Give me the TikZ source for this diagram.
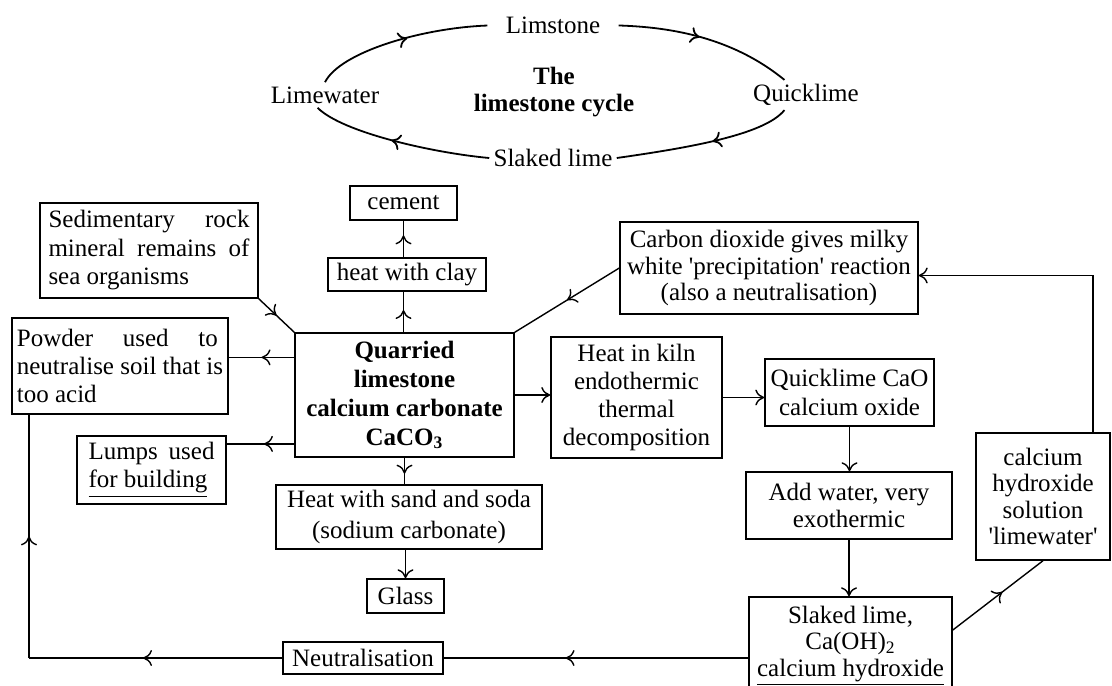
\documentclass[tikz,border=0pt]{standalone}
\usepackage{fontspec}
\setmainfont{Liberation Serif}
\usetikzlibrary{arrows.meta,decorations.markings,calc}
\newcommand{\myfs}[1]{\fontsize{12.5}{#1}\selectfont}
\begin{document}
\begin{tikzpicture}[x=0.5pt,y=-0.5pt,
  box/.style={draw, line width=0.7pt, inner sep=0pt, align=center, font=\myfs{14pt}},
  lbl/.style={inner sep=2pt, font=\myfs{13.5pt}},
  conn/.style={line width=0.7pt},
  endarr/.style={-{To[length=4.5pt,width=8pt]}},
  midarr/.style={postaction={decorate,decoration={markings,mark=at position #1 with {\arrow{To[length=4.5pt,width=8pt]}}}}},
  midarr/.default=0.5,
  cyc/.style={line width=0.9pt}
]
\useasboundingbox (0,0) rectangle (1112,685);
\clip (0,0) rectangle (1112,685);

% ---- top cycle ----
\node[lbl] (lim) at (553,25) {Limstone};
\node[lbl] (limew) at (325,95) {Limewater};
\node[lbl] (quick) at (806,95) {Quicklime};
\node[lbl] (slk) at (553,158) {Slaked lime};
\node[lbl, align=center, font=\bfseries\myfs{13.5pt}] (title) at (554,92) {The\\limestone cycle};

\draw[cyc, midarr=0.5, shorten >=7pt] (limew.north) .. controls +(15,-30) and +(-80,3) .. (lim.west);
\draw[cyc, midarr=0.5, shorten <=7pt] (lim.east) .. controls +(60,2) and +(-55,-45) .. (quick.145);
\draw[cyc, midarr=0.45] (quick.215) .. controls +(-20,25) and +(70,-10) .. (slk.east);
\draw[cyc, midarr=0.55] (slk.west) .. controls +(-55,-5) and +(25,25) .. (limew.240);

% ---- boxes ----
\node[box, minimum width=53.5pt, minimum height=17pt] (cement) at (403.5,203) {cement};
\node[box, minimum width=79pt, minimum height=16.5pt] (clay) at (407,274.5) {heat with clay};
\node[box, minimum width=109pt, minimum height=47.5pt, align=left, font=\myfs{14.25pt}] (sed) at (149,250.5)
  {\makebox[100.5pt][s]{Sedimentary rock}\\\makebox[100.5pt][s]{mineral remains of}\\sea organisms};
\node[box, minimum width=149pt, minimum height=46pt, font=\myfs{13.25pt}] (carbon) at (769,268)
  {Carbon dioxide gives milky\\white \textquotesingle precipitation\textquotesingle{} reaction\\(also a neutralisation)};
\node[box, minimum width=108pt, minimum height=48pt, align=left] (powder) at (120,366)
  {\makebox[100.5pt][s]{Powder used to}\\neutralise soil that is\\too acid};
\node[box, minimum width=109.5pt, minimum height=62pt, font=\bfseries\myfs{14.5pt}] (quarried) at (404.5,395)
  {Quarried\\limestone\\calcium carbonate\\CaCO\textsubscript{3}};
\node[box, minimum width=85.5pt, minimum height=60.5pt] (kiln) at (636.5,397.5)
  {Heat in kiln\\endothermic\\thermal\\decomposition};
\node[box, minimum width=84.5pt, minimum height=33.5pt, font=\myfs{14.5pt}] (qbox) at (849.5,392.5)
  {Quicklime CaO\\calcium oxide};
\node[box, minimum width=74.5pt, minimum height=34pt, align=left] (lumps) at (151.5,470)
  {\makebox[63pt][s]{Lumps used}\\\underline{for building}};
\node[box, minimum width=133pt, minimum height=32pt, font=\myfs{15.5pt}] (sand) at (409,517)
  {\makebox[122pt][s]{Heat with sand and soda}\\(sodium carbonate)};
\node[box, minimum width=103pt, minimum height=33.5pt, font=\myfs{13.5pt}] (addw) at (849,505.5)
  {Add water, very\\exothermic};
\node[box, minimum width=67pt, minimum height=63.5pt, font=\myfs{13.2pt}] (lwbox) at (1043,496.5)
  {calcium\\hydroxide\\solution\\\textquotesingle limewater\textquotesingle};
\node[box, minimum width=38.5pt, minimum height=17pt] (glass) at (405.5,596) {Glass};
\node[box, minimum width=80pt, minimum height=16pt] (neut) at (363,658) {Neutralisation};
\node[box, minimum width=101.5pt, minimum height=49pt, font=\myfs{13.25pt}] (slaked) at (850.5,646)
  {Slaked lime,\\Ca(OH)\textsubscript{2}\\\underline{calcium hydroxide}};

% ---- connectors ----
\draw[conn, midarr=0.6] (clay.north -| cement.south) -- (cement.south);
\draw[conn, midarr=0.55] (quarried.north -| cement.south) -- (clay.south -| cement.south);
\draw[conn, midarr=0.5] (sed.south east) -- (quarried.north west);
\draw[conn, midarr=0.5] (carbon.west) -- (quarried.north east);
\coordinate (qp) at ($(quarried.north west)!0.2!(quarried.south west)$);
\draw[conn, midarr=0.5] (qp) -- (qp -| powder.east);
\coordinate (ql) at ($(quarried.north west)!0.89!(quarried.south west)$);
\draw[conn, midarr=0.45] (ql) -- (ql -| lumps.east);
\draw[conn, endarr] (quarried.east) -- (quarried.east -| kiln.west);
\draw[conn, endarr] (kiln.east) -- (kiln.east -| qbox.west);
\draw[conn, midarr=0.6] (quarried.south) -- (quarried.south |- sand.north);
\draw[conn, endarr] (glass.north |- sand.south) -- (glass.north);
\draw[conn, endarr] (qbox.south) -- (qbox.south |- addw.north);
\draw[conn, endarr] (addw.south) -- (addw.south |- slaked.north);
\coordinate (se) at ($(slaked.north east)!0.34!(slaked.south east)$);
\draw[conn, midarr=0.55] (se) -- (lwbox.south);
\coordinate (lc) at ($(lwbox.north west)!0.87!(lwbox.north east)$);
\coordinate (ce) at ($(carbon.north east)!0.58!(carbon.south east)$);
\draw[conn, endarr] (lc) |- (ce);
\draw[conn, midarr=0.6] (slaked.west |- neut.east) -- (neut.east);
\coordinate (nc) at (29,658);
\draw[conn, midarr=0.55] (neut.west) -- (nc);
\draw[conn, midarr=0.5] (nc) -- (nc |- powder.south);
\end{tikzpicture}
\end{document}
